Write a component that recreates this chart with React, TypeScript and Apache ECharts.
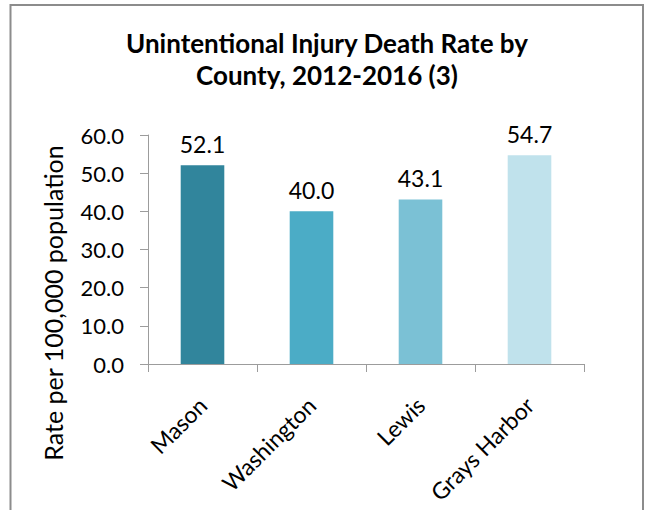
import React, { useEffect, useRef } from "react";
import * as echarts from "echarts";

const categories = ["Mason", "Washington", "Lewis", "Grays Harbor"];
const rates = [52.1, 40.0, 43.1, 54.7];
const barColors = ["#31859C", "#4BACC6", "#7BC1D5", "#C0E2EC"];
const yTicks = { min: 0, max: 60, interval: 10 };
const titleLines = ["Unintentional Injury Death Rate by", "County, 2012-2016 (3)"];
const yAxisTitle = "Rate per 100,000 population";

const FONT = "Lato, 'Open Sans', sans-serif";

export default function App() {
  const ref = useRef<HTMLDivElement>(null);
  useEffect(() => {
    if (!ref.current) return;
    const chart = echarts.init(ref.current, undefined, { renderer: "svg" });
    chart.setOption({
      animation: false,
      backgroundColor: "#ffffff",
      title: titleLines.map((t, i) => ({
        text: t,
        left: 327,
        top: 27.5 + i * 31.5,
        textAlign: "center",
        padding: 0,
        textStyle: {
          fontFamily: FONT,
          fontSize: 26,
          fontWeight: "bold",
          color: "#000000",
          lineHeight: 31,
        },
      })),
      grid: { left: 148, right: 65, top: 135, bottom: 146, containLabel: false },
      xAxis: {
        type: "category",
        data: categories,
        axisLine: { show: true, lineStyle: { color: "#9c9c9c", width: 1 } },
        axisTick: { show: true, length: 8, lineStyle: { color: "#9c9c9c" } },
        axisLabel: {
          rotate: 45,
          margin: 37,
          interval: 0,
          fontFamily: FONT,
          fontSize: 23,
          color: "#000000",
        },
      },
      yAxis: {
        type: "value",
        min: yTicks.min,
        max: yTicks.max,
        interval: yTicks.interval,
        splitLine: { show: false },
        axisLine: { show: true, lineStyle: { color: "#9c9c9c", width: 1 } },
        axisTick: { show: true, length: 8, lineStyle: { color: "#9c9c9c" } },
        axisLabel: {
          margin: 24,
          fontFamily: FONT,
          fontSize: 22,
          color: "#000000",
          formatter: (v: number) => v.toFixed(1),
        },
      },
      series: [
        {
          type: "bar",
          barWidth: "40%",
          data: rates.map((v, i) => ({ value: v, itemStyle: { color: barColors[i] } })),
          label: {
            show: true,
            position: "top",
            distance: 10,
            fontFamily: FONT,
            fontSize: 23,
            color: "#000000",
            formatter: (p: any) => Number(p.value).toFixed(1),
          },
        },
      ],
      graphic: [
        {
          type: "rect",
          shape: { x: 10.5, y: 5, width: 632.5, height: 530 },
          style: { fill: "none", stroke: "#8c8c8c", lineWidth: 2 },
          silent: true,
        },
        {
          type: "text",
          x: 53,
          y: 303,
          rotation: Math.PI / 2,
          style: {
            text: yAxisTitle,
            fontFamily: FONT,
            fontSize: 25,
            fill: "#000000",
            align: "center",
            verticalAlign: "middle",
          },
        },
      ],
    });
    return () => chart.dispose();
  }, []);
  return (
    <div
      ref={ref}
      style={{ position: "fixed", left: 0, top: 0, width: 649, height: 510 }}
    />
  );
}
